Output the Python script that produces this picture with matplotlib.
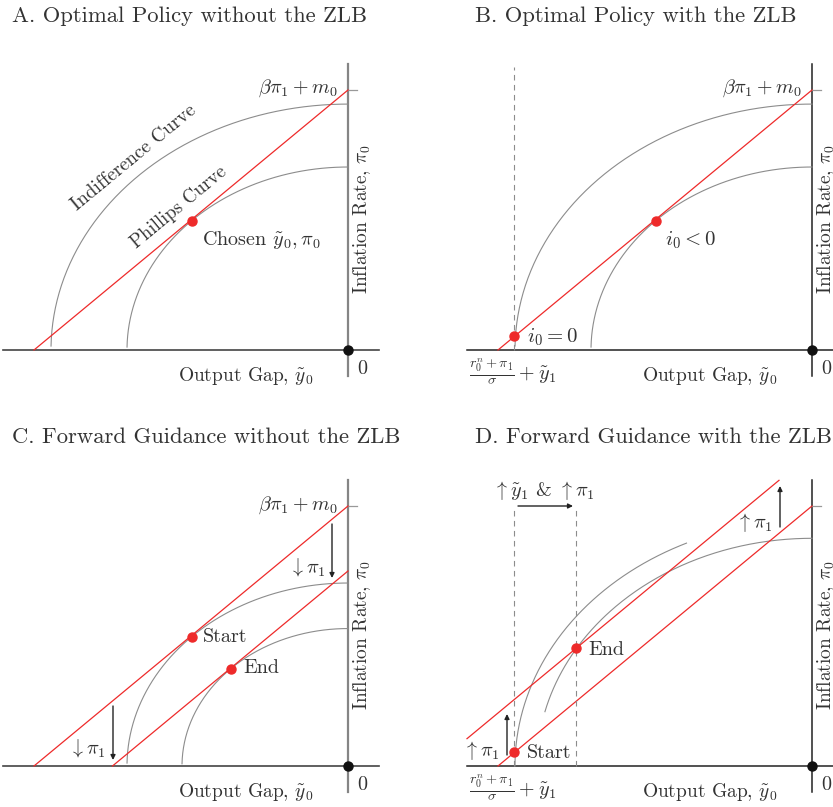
import matplotlib
matplotlib.use("Agg")
import matplotlib.pyplot as plt
import numpy as np

# schematic in pixel-like units, origin of each panel at (0, 0), y up
RATIO = 0.828                 # b/a of indifference curves = Phillips curve slope
pc_base = 260                 # beta*pi_1 + m_0
pc_low_C = 195                # Phillips curve after lower pi_1 (panel C)
pc_high_D = 313               # Phillips curve after higher pi_1 (panel D)
ic_outer = 297                # semi-axis (x) of outer indifference curve
ic_inner = 221                # inner indifference curve
ic_low_C = 166                # lower indifference curve, panel C
ic_D = 275                    # indifference curve through End, panel D
zlb_x = -297.7                # (r0^n + pi_1)/sigma + y1
end_x_D = -236                # y1 raised, panel D

titles = ["A. Optimal Policy without the ZLB", "B. Optimal Policy with the ZLB",
          "C. Forward Guidance without the ZLB", "D. Forward Guidance with the ZLB"]

RED = "#ee2a2a"
GRAY = "#8c8c8c"
TXT = "#333333"
FS = 14.5

plt.rcParams["mathtext.fontset"] = "cm"
plt.rcParams["font.family"] = "cmr10"
plt.rcParams["axes.formatter.use_mathtext"] = True

W, H = 833, 807
fig = plt.figure(figsize=(W / 100, H / 100), dpi=100)


def panel(ox, oy, left, top, right, bottom):
    ax = fig.add_axes([left / W, 1 - bottom / H, (right - left) / W, (bottom - top) / H])
    ax.set_xlim(left - ox, right - ox)
    ax.set_ylim(oy - bottom, oy - top)
    ax.axis("off")
    return ax


def arc(ax, a, t0=0.016, t1=np.pi / 2, **kw):
    t = np.linspace(t0, t1, 200)
    ax.plot(-a * np.cos(t), a * RATIO * np.sin(t), color=GRAY, lw=0.8, **kw)


def pc(ax, c, x0=None, x1=0):
    if x0 is None:
        x0 = -c / RATIO
    xs = np.array([x0, x1])
    ax.plot(xs, c + RATIO * xs, color=RED, lw=0.9)


def axes_lines(ax, dark):
    if dark:
        ax.plot([-345, 31], [0, 0], color="#222222", lw=1.1)
        ax.plot([0, 0], [-26, 286], color="#222222", lw=1.1)
    else:
        ax.plot([-345, 31], [0, 0], color="#444444", lw=1.2)
        ax.plot([0, 0], [-26, 286], color="#858585", lw=1.6)
    ax.plot([0, 9], [pc_base, pc_base], color="#999999", lw=0.9)
    ax.plot(0, 0, "o", color="#111111", ms=6.5, zorder=5)
    ax.text(14.7, -19, "$0$", fontsize=FS, color=TXT, ha="center", va="center")
    ax.text(14, 131, r"Inflation Rate, $\pi_0$", fontsize=14, color=TXT, rotation=90,
            ha="center", va="center")
    ax.text(-35, -26, r"Output Gap, $\tilde{y}_0$", fontsize=14, color=TXT,
            ha="right", va="center")


def dot(ax, x, y):
    ax.plot(x, y, "o", color=RED, ms=6.5, zorder=6)


def tangent(a):
    return -a * np.cos(np.pi / 4), a * RATIO * np.sin(np.pi / 4)


def arrow(ax, x0, y0, x1, y1):
    ax.annotate("", xy=(x1, y1), xytext=(x0, y0),
                arrowprops=dict(arrowstyle="-|>", color="#222222", lw=1.0,
                                mutation_scale=7, shrinkA=0, shrinkB=0))


bp = r"$\beta\pi_1 + m_0$"
zlb_lbl = r"$\frac{r_0^n+\pi_1}{\sigma} + \tilde{y}_1$"

# --- A ---
ax = panel(348, 350, 0, 40, 400, 400)
axes_lines(ax, dark=False)
arc(ax, ic_outer); arc(ax, ic_inner)
pc(ax, pc_base)
dot(ax, *tangent(ic_inner))
ax.text(-10, 262, bp, fontsize=FS, color=TXT, ha="right", va="center")
ax.text(-146, 110, r"Chosen $\tilde{y}_0, \pi_0$", fontsize=FS, color=TXT, va="center")
ax.text(-214, 192, "Indifference Curve", fontsize=14, color=TXT, rotation=39.5,
        ha="center", va="center")
ax.text(-169, 143, "Phillips Curve", fontsize=13.6, color=TXT, rotation=39.6,
        ha="center", va="center")

# --- B ---
ax = panel(812, 350, 420, 40, 833, 400)
axes_lines(ax, dark=True)
arc(ax, ic_outer); arc(ax, ic_inner)
pc(ax, pc_base)
ax.plot([zlb_x, zlb_x], [0, 283], color=GRAY, lw=0.8, ls=(0, (5, 4)))
dot(ax, *tangent(ic_inner))
dot(ax, zlb_x, pc_base + RATIO * zlb_x)
ax.text(-10, 262, bp, fontsize=FS, color=TXT, ha="right", va="center")
ax.text(-147, 110, r"$i_0 < 0$", fontsize=15, color=TXT, va="center")
ax.text(-285, 13, r"$i_0 = 0$", fontsize=15, color=TXT, va="center")
ax.text(-343, -22, zlb_lbl, fontsize=FS, color=TXT, va="center")

# --- C ---
ax = panel(348, 766, 0, 460, 400, 807)
axes_lines(ax, dark=False)
arc(ax, ic_inner); arc(ax, ic_low_C)
pc(ax, pc_base); pc(ax, pc_low_C)
dot(ax, *tangent(ic_inner)); dot(ax, *tangent(ic_low_C))
arrow(ax, -16, 242, -16, 188)
arrow(ax, -235, 60, -235, 6)
ax.text(-10, 261, bp, fontsize=FS, color=TXT, ha="right", va="center")
ax.text(-41, 199, r"$\downarrow \pi_1$", fontsize=FS, color=TXT, ha="center", va="center")
ax.text(-261, 18, r"$\downarrow \pi_1$", fontsize=FS, color=TXT, ha="center", va="center")
ax.text(-145, 129, "Start", fontsize=FS, color=TXT, va="center")
ax.text(-105, 98, "End", fontsize=FS, color=TXT, va="center")

# --- D ---
ax = panel(812, 766, 420, 460, 833, 807)
axes_lines(ax, dark=True)
arc(ax, ic_outer, t0=0.0, t1=np.radians(65))
arc(ax, ic_D, t0=np.radians(13.8))
pc(ax, pc_base)
pc(ax, pc_high_D, x0=-345, x1=-33)
for xd in [zlb_x, end_x_D]:
    ax.plot([xd, xd], [0, 259], color=GRAY, lw=0.8, ls=(0, (5, 4)))
dot(ax, zlb_x, pc_base + RATIO * zlb_x)
dot(ax, end_x_D, pc_high_D + RATIO * end_x_D)
arrow(ax, -294, 260, -239, 260)
arrow(ax, -32, 239, -32, 280)
arrow(ax, -305, 11, -305, 52)
ax.text(-268, 276, r"$\uparrow \tilde{y}_1$ & $\uparrow \pi_1$", fontsize=FS, color=TXT,
        ha="center", va="center")
ax.text(-58, 244, r"$\uparrow \pi_1$", fontsize=FS, color=TXT, ha="center", va="center")
ax.text(-331, 15, r"$\uparrow \pi_1$", fontsize=FS, color=TXT, ha="center", va="center")
ax.text(-285, 13, "Start", fontsize=FS, color=TXT, va="center")
ax.text(-224, 116, "End", fontsize=FS, color=TXT, va="center")
ax.text(-343, -22, zlb_lbl, fontsize=FS, color=TXT, va="center")

# titles
fig.text(11.7 / W, 1 - 16 / H, titles[0], fontsize=16.3, color=TXT, va="center")
fig.text(475 / W, 1 - 16 / H, titles[1], fontsize=16.3, color=TXT, va="center")
fig.text(11.7 / W, 1 - 437 / H, titles[2], fontsize=16.3, color=TXT, va="center")
fig.text(475 / W, 1 - 437 / H, titles[3], fontsize=16.3, color=TXT, va="center")

fig.savefig("out.png", dpi=100)
